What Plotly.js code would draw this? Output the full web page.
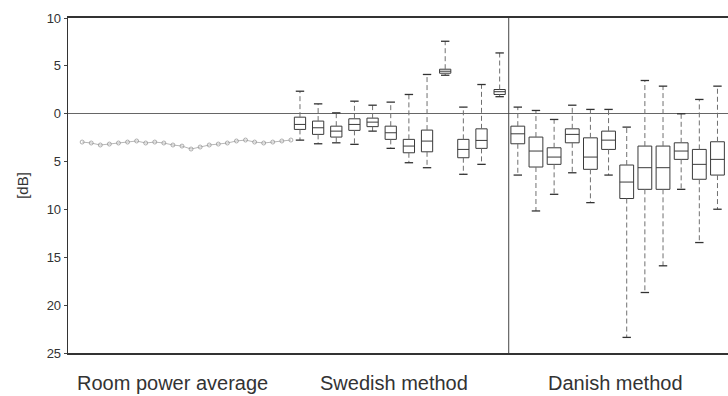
<!DOCTYPE html>
<html>
<head>
<meta charset="utf-8">
<script src="https://cdn.plot.ly/plotly-3.0.1.min.js"></script>
<style>html,body{margin:0;padding:0;background:#fff;overflow:hidden}#chart{width:728px;height:396px}</style>
</head>
<body>
<div id="chart"></div>
<script>
// ---- data (dB) ----
const groupLabels = ["Room power average", "Swedish method", "Danish method"];

const roomValues = [-2.96,-3.06,-3.27,-3.17,-3.06,-2.96,-2.85,-3.06,-2.96,-3.06,-3.27,-3.38,
                    -3.69,-3.48,-3.27,-3.17,-3.06,-2.85,-2.75,-2.96,-3.06,-2.96,-2.85,-2.75];

const swedishUpper  = [2.35, 1.03, 0.09, 1.31, 0.89, 1.21, 2.01, 4.10, 7.57, 0.69, 3.05, 6.35];
const swedishQ3     = [-0.36,-0.77,-1.30,-0.53,-0.46,-1.30,-2.68,-1.71, 4.65,-2.68,-1.58, 2.53];
const swedishMedian = [-1.12,-1.47,-1.82,-1.12,-0.88,-1.99,-3.38,-2.86, 4.44,-3.73,-2.79, 2.30];
const swedishQ1     = [-1.64,-2.16,-2.44,-1.74,-1.35,-2.68,-4.08,-3.98, 4.23,-4.60,-3.62, 2.01];
const swedishLower  = [-2.76,-3.14,-3.04,-3.20,-1.82,-3.62,-5.12,-5.64, 4.02,-6.33,-5.29, 1.78];

const danishUpper  = [0.69, 0.34,-0.60, 0.89, 0.45, 0.45,-1.40, 3.47, 2.88,-0.01, 1.49, 2.88, 2.40];
const danishQ3     = [-1.30,-2.44,-3.56,-1.58,-2.52,-1.82,-5.36,-3.38,-3.38,-3.04,-3.73,-2.93,-3.59];
const danishMedian = [-2.10,-3.90,-4.53,-2.16,-4.53,-2.76,-7.14,-5.64,-5.64,-3.90,-5.29,-4.77,-4.80];
const danishQ1     = [-3.14,-5.57,-5.29,-3.04,-5.81,-3.73,-8.86,-7.90,-7.90,-4.77,-6.85,-6.41,-5.99];
const danishLower  = [-6.41,-10.16,-8.42,-6.17,-9.29,-6.41,-23.37,-18.68,-15.89,-7.90,-13.46,-9.98,-20.60];

const yTickVals = [10, 5, 0, -5, -10, -15, -20, -25];
const yTickText = ["10", "5", "0", "5", "10", "15", "20", "25"];

// ---- layout helpers (slot positions on the x axis) ----
const roomX = roomValues.map((_, i) => 1 + i * 0.5);
const swedishX = swedishMedian.map((_, i) => 13 + i);
const danishX = danishMedian.map((_, i) => 25 + i);

const boxLine = {color: "#3a3a3a", width: 1};

function whiskerSegments(xs, q1, q3, lo, hi) {
  const x = [], y = [];
  xs.forEach((xv, i) => {
    x.push(xv, xv, null, xv, xv, null);
    y.push(q3[i], hi[i], null, q1[i], lo[i], null);
  });
  return {x, y};
}
function capPoints(xs, lo, hi) {
  return {x: xs.concat(xs), y: hi.concat(lo)};
}

function groupTraces(xs, q1, med, q3, lo, hi, boxWidth) {
  const w = whiskerSegments(xs, q1, q3, lo, hi);
  const c = capPoints(xs, lo, hi);
  return [
    {type: "scatter", mode: "lines", x: w.x, y: w.y,
     line: {color: "#707070", width: 1, dash: "5px,3px"}, hoverinfo: "skip", showlegend: false},
    {type: "scatter", mode: "markers", x: c.x, y: c.y,
     marker: {symbol: "line-ew", size: 6, line: {color: "#333", width: 1.3}}, hoverinfo: "skip", showlegend: false},
    {type: "box", x: xs, q1: q1, median: med, q3: q3, lowerfence: q1, upperfence: q3,
     width: boxWidth, whiskerwidth: 0, line: boxLine, fillcolor: "rgba(255,255,255,1)",
     boxpoints: false, showlegend: false, hoverinfo: "skip"}
  ];
}

const traces = [
  {
    type: "scatter", mode: "lines+markers", x: roomX, y: roomValues,
    line: {color: "#a5a5a5", width: 0.8},
    marker: {symbol: "circle-open", size: 4, color: "#999", line: {width: 0.8}},
    hoverinfo: "skip", showlegend: false
  }
].concat(
  groupTraces(swedishX, swedishQ1, swedishMedian, swedishQ3, swedishLower, swedishUpper, 0.62),
  groupTraces(danishX, danishQ1, danishMedian, danishQ3, danishLower, danishUpper, 0.76)
);

const labelFont = {family: "Liberation Sans, Arial, sans-serif", size: 20, color: "#333"};

const layout = {
  width: 728, height: 396,
  margin: {l: 68, r: 0, t: 18, b: 43},
  paper_bgcolor: "#ffffff", plot_bgcolor: "#ffffff",
  showlegend: false,
  boxmode: "overlay",
  xaxis: {
    range: [0.22, 36.58], showticklabels: false, ticks: "", showgrid: false, zeroline: false,
    showline: true, linecolor: "#333", linewidth: 1.6, mirror: true
  },
  yaxis: {
    range: [-25, 10], tickvals: yTickVals, ticktext: yTickText,
    ticks: "outside", ticklen: 3, tickcolor: "#444",
    tickfont: {family: "Liberation Sans, Arial, sans-serif", size: 13, color: "#333"},
    showgrid: false, zeroline: true, zerolinecolor: "#666", zerolinewidth: 1.5,
    showline: true, linecolor: "#333", linewidth: 1.3, mirror: false,
    title: {text: "[dB]", font: {family: "Liberation Sans, Arial, sans-serif", size: 15, color: "#333"}, standoff: 14}
  },
  shapes: [
    {type: "line", xref: "x", yref: "paper", x0: 24.5, x1: 24.5, y0: 0, y1: 1,
     line: {color: "#444", width: 1}}
  ],
  annotations: [
    {text: groupLabels[0], x: 5.95, xref: "x", y: -0.09, yref: "paper", yanchor: "middle", showarrow: false, font: labelFont},
    {text: groupLabels[1], x: 18.2, xref: "x", y: -0.09, yref: "paper", yanchor: "middle", showarrow: false, font: labelFont},
    {text: groupLabels[2], x: 30.4, xref: "x", y: -0.09, yref: "paper", yanchor: "middle", showarrow: false, font: labelFont}
  ]
};

Plotly.newPlot("chart", traces, layout, {staticPlot: true, displayModeBar: false});
</script>
</body>
</html>
